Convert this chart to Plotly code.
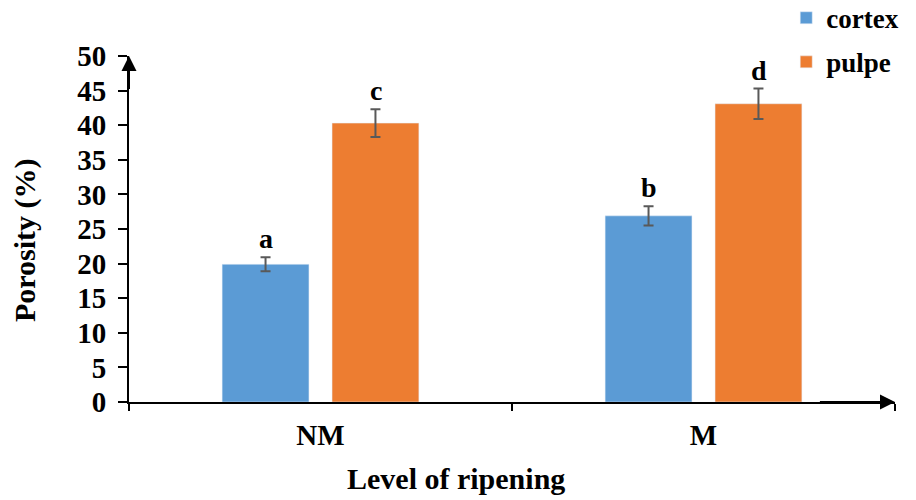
import plotly.graph_objects as go

categories = ["NM", "M"]
cortex = [19.9, 26.9]
cortex_err = [1.0, 1.4]
pulpe = [40.3, 43.1]
pulpe_err = [2.0, 2.2]
cortex_letters = ["a", "b"]
pulpe_letters = ["c", "d"]
y_ticks = [0, 5, 10, 15, 20, 25, 30, 35, 40, 45, 50]

FONT = "Liberation Serif"
BLUE = "#5B9BD5"
ORANGE = "#ED7D31"
ERRC = "#595959"

fig = go.Figure()
fig.add_trace(go.Bar(
    name="<b>cortex</b>", x=categories, y=cortex, marker_color=BLUE, legendgroup="g1",
    error_y=dict(type="data", array=cortex_err, color=ERRC, thickness=2, width=5),
))
fig.add_trace(go.Bar(
    name="<b>pulpe</b>", x=categories, y=pulpe, marker_color=ORANGE, legendgroup="g2",
    error_y=dict(type="data", array=pulpe_err, color=ERRC, thickness=2, width=5),
))

annotations = []
for i, c in enumerate(categories):
    annotations.append(dict(x=c, y=cortex[i] + cortex_err[i], xref="x", yref="y",
                            text="<b>%s</b>" % cortex_letters[i], showarrow=False,
                            xshift=-55, yshift=1, yanchor="bottom",
                            font=dict(family=FONT, size=28, color="black")))
    annotations.append(dict(x=c, y=pulpe[i] + pulpe_err[i], xref="x", yref="y",
                            text="<b>%s</b>" % pulpe_letters[i], showarrow=False,
                            xshift=55, yshift=1, yanchor="bottom",
                            font=dict(family=FONT, size=28, color="black")))

# axis arrows
annotations.append(dict(x=-0.5, y=50, ax=-0.5, ay=45, xref="x", yref="y", axref="x", ayref="y",
                        showarrow=True, arrowhead=2, arrowsize=1.5, arrowwidth=2,
                        arrowcolor="black", text="", standoff=0))
annotations.append(dict(x=1.5, y=0, ax=1.3, ay=0, xref="x", yref="y", axref="x", ayref="y",
                        showarrow=True, arrowhead=2, arrowsize=1.5, arrowwidth=2,
                        arrowcolor="black", text="", standoff=0))

# axis titles
annotations.append(dict(x=-0.1358, y=0.468, xref="paper", yref="paper", textangle=-90,
                        text="<b>Porosity (%)</b>", showarrow=False, xanchor="center", yanchor="middle",
                        font=dict(family=FONT, size=30, color="black")))
annotations.append(dict(x=0.427, y=-0.2197, xref="paper", yref="paper",
                        text="<b>Level of ripening</b>", showarrow=False, xanchor="center", yanchor="middle",
                        font=dict(family=FONT, size=30, color="black")))

# page body has an 8px default margin; shrink figure and margins to compensate
fig.update_layout(
    width=908, height=492,
    margin=dict(l=121, r=21, t=48, b=98, autoexpand=False),
    paper_bgcolor="white", plot_bgcolor="white",
    barmode="group", bargap=0.426, bargroupgap=0.21,
    font=dict(family=FONT, color="black"),
    annotations=annotations,
    legend=dict(x=0.858, y=1.18, xanchor="left", yanchor="top",
                font=dict(family=FONT, size=27, color="black"),
                tracegroupgap=6, itemwidth=30, bgcolor="rgba(0,0,0,0)"),
    showlegend=True,
)
fig.update_xaxes(
    range=[-0.5, 1.5], showline=True, linecolor="black", linewidth=2,
    ticks="outside", tickson="boundaries", ticklen=7, tickwidth=2, tickcolor="black",
    tickfont=dict(family=FONT, size=29, color="black"),
    tickvals=categories, ticktext=["<b>%s</b>" % c for c in categories],
    showgrid=False, zeroline=False, ticklabelstandoff=6,
)
fig.update_yaxes(
    range=[0, 50], showline=True, linecolor="black", linewidth=2,
    ticks="outside", ticklen=9, tickwidth=1.5, tickcolor="black",
    tickvals=y_ticks, ticktext=["<b>%d</b>" % v for v in y_ticks],
    tickfont=dict(family=FONT, size=29, color="black"),
    showgrid=False, zeroline=False, ticklabelstandoff=6,
)

fig.write_html("out.html")
